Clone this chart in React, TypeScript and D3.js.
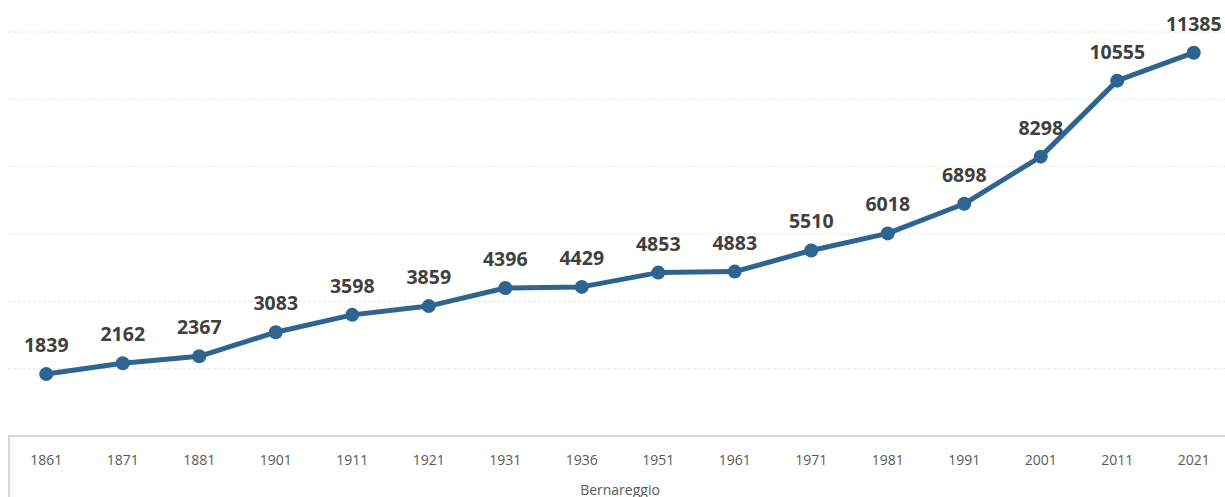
import * as d3 from "d3";

const years = ["1861", "1871", "1881", "1901", "1911", "1921", "1931", "1936", "1951", "1961", "1971", "1981", "1991", "2001", "2011", "2021"];
const population = [1839, 2162, 2367, 3083, 3598, 3859, 4396, 4429, 4853, 4883, 5510, 6018, 6898, 8298, 10555, 11385];
const gridValues = [2000, 4000, 6000, 8000, 10000, 12000];
const axisTitle = "Bernareggio";

const W = 1225;
const H = 497;

export default function App() {
  const x = d3.scalePoint<string>().domain(years).range([8, 1232]).padding(0.5);
  const y = d3.scaleLinear().domain([0, 12000]).range([436, 32]);

  const pts = years.map((yr, i) => [x(yr) as number, y(population[i])] as [number, number]);
  const line = d3.line()(pts) ?? "";

  return (
    <svg
      width={W}
      height={H}
      style={{ position: "absolute", left: 0, top: 0, fontFamily: "'Open Sans', sans-serif" }}
    >
      <rect width={W} height={H} fill="#fff" />
      {gridValues.map((v) => (
        <line key={v} x1={8} x2={W} y1={y(v)} y2={y(v)} stroke="#e6e6e6" strokeDasharray="3,2" />
      ))}
      {/* axis box */}
      <line x1={8} x2={W} y1={y(0)} y2={y(0)} stroke="#d6d6d6" strokeWidth={2} />
      <line x1={9} x2={9} y1={y(0)} y2={H} stroke="#d6d6d6" strokeWidth={2} />
      {years.map((yr) => (
        <text key={yr} x={x(yr)} y={465} textAnchor="middle" fontSize={14} fill="#595959">
          {yr}
        </text>
      ))}
      <text x={(8 + 1232) / 2} y={495} textAnchor="middle" fontSize={14} fill="#595959">
        {axisTitle}
      </text>
      <path d={line} fill="none" stroke="#2e6590" strokeWidth={5} strokeLinejoin="round" />
      {pts.map(([px, py], i) => (
        <circle key={i} cx={px} cy={py} r={7} fill="#2e6590" />
      ))}
      {pts.map(([px, py], i) => (
        <text key={"l" + i} x={px} y={py - 22} textAnchor="middle" fontSize={19.5} fontWeight={700} fill="#404040">
          {population[i]}
        </text>
      ))}
    </svg>
  );
}
